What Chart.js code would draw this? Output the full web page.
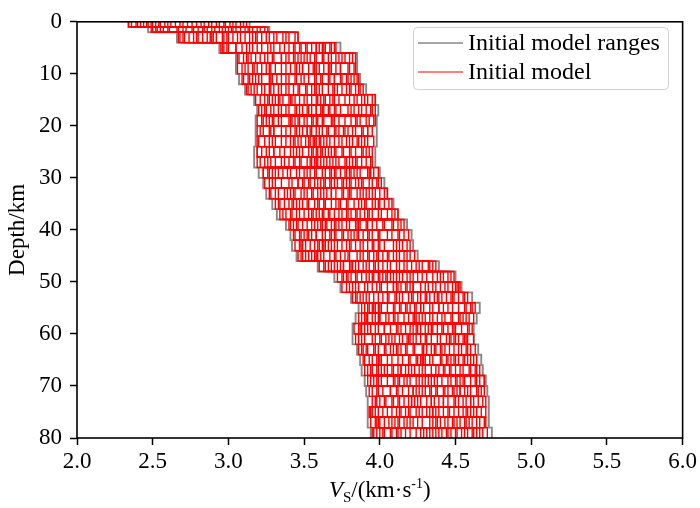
<!DOCTYPE html>
<html><head><meta charset="utf-8">
<script src="https://cdn.jsdelivr.net/npm/chart.js@4.4.1/dist/chart.umd.min.js"></script>
<style>html,body{margin:0;padding:0;background:#fff;}canvas{display:block;}</style>
</head><body>
<canvas id="c" width="700" height="508"></canvas>
<script>
// Layer boundaries (km)
const layerTop    = [0,1,2,4,6,8,10,12,14,16,18,20,22,24,26,28,30,32,34,36,38,40,42,44,46,48,50,52,54,56,58,60,62,64,66,68,70,72,74,76,78];
const layerBottom = [1,2,4,6,8,10,12,14,16,18,20,22,24,26,28,30,32,34,36,38,40,42,44,46,48,50,52,54,56,58,60,62,64,66,68,70,72,74,76,78,80];
// Initial model ranges (km/s)
const rangeMin = [2.34,2.47,2.66,2.94,3.05,3.05,3.07,3.11,3.17,3.19,3.18,3.18,3.18,3.17,3.17,3.20,3.23,3.25,3.29,3.32,3.38,3.41,3.42,3.45,3.59,3.70,3.74,3.81,3.86,3.84,3.82,3.82,3.85,3.87,3.88,3.90,3.91,3.92,3.92,3.92,3.94];
const rangeMax = [3.14,3.27,3.46,3.74,3.85,3.85,3.87,3.91,3.97,3.99,3.98,3.98,3.98,3.97,3.97,4.00,4.03,4.05,4.09,4.12,4.18,4.21,4.22,4.25,4.39,4.50,4.54,4.61,4.66,4.64,4.62,4.62,4.65,4.67,4.68,4.70,4.71,4.72,4.72,4.72,4.74];
// Initial models (km/s per layer)
const m1  = [2.46,3.02,2.97,3.64,3.13,3.49,3.70,3.38,3.67,3.38,3.93,3.54,3.20,3.75,3.58,3.87,3.46,4.05,3.43,3.81,3.71,4.13,3.48,4.06,3.97,3.95,4.51,3.91,4.39,4.30,4.11,4.50,3.89,4.44,4.23,4.69,4.07,4.34,4.57,4.13,4.45];
const m2  = [2.97,2.61,3.32,3.05,3.71,3.22,3.14,3.80,3.29,3.86,3.41,3.77,3.63,3.30,3.91,3.36,3.88,3.52,3.97,3.60,4.02,3.55,3.89,3.58,4.21,4.38,3.86,4.27,3.99,4.57,3.94,4.18,4.52,4.01,4.60,4.28,4.49,4.03,4.26,4.61,4.07];
const m3  = [2.58,3.19,2.74,3.48,3.57,3.79,3.45,3.17,3.92,3.53,3.25,3.88,3.44,3.66,3.24,3.71,3.61,3.33,3.74,4.05,3.46,3.83,4.15,3.79,3.68,4.11,4.27,4.52,3.92,4.06,4.48,3.90,4.23,4.62,3.95,4.10,4.64,4.19,3.99,4.40,4.68];
const m4  = [3.08,2.84,3.11,2.99,3.29,3.60,3.83,3.55,3.21,3.70,3.59,3.23,3.85,3.49,3.78,3.27,3.98,3.68,3.37,3.93,4.14,3.47,3.66,4.20,3.81,3.76,4.45,4.06,4.61,4.19,3.86,4.57,4.09,4.29,4.47,3.96,4.33,4.68,4.11,3.97,4.29];
const m5  = [2.40,2.53,2.92,3.67,3.10,3.11,3.58,3.69,3.44,3.24,3.81,3.62,3.29,3.19,3.63,3.94,3.29,3.91,3.60,3.38,3.87,4.19,3.75,3.51,4.33,4.02,3.78,4.39,4.18,3.88,4.35,4.10,4.60,3.93,4.14,4.55,3.95,4.50,4.42,4.08,3.98];
const m6  = [2.73,3.24,3.40,3.22,3.82,3.35,3.22,3.86,3.77,3.45,3.50,3.95,3.70,3.88,3.40,3.52,3.72,4.00,3.52,3.70,3.57,3.99,4.03,3.92,3.64,4.45,4.09,3.85,4.48,4.35,4.12,4.40,3.88,4.52,4.30,4.63,4.15,3.95,4.67,4.25,4.56];
const m7  = [2.89,2.70,2.68,3.58,3.44,3.71,3.10,3.24,3.61,3.97,3.19,3.49,3.57,3.95,3.52,3.41,3.50,3.44,3.83,4.10,3.65,3.62,3.44,4.11,3.91,4.28,4.52,3.96,4.09,4.62,4.27,3.84,4.37,4.15,3.90,4.41,4.56,4.27,3.94,4.51,4.39];
const m8  = [2.50,2.98,3.22,2.96,3.62,3.06,3.70,3.13,3.18,3.62,3.68,3.30,3.96,3.22,3.85,3.80,3.35,3.59,4.06,3.45,3.95,3.89,3.57,3.98,4.07,3.88,4.18,4.58,3.88,4.24,4.58,4.27,4.11,4.40,4.66,4.01,4.22,4.60,4.49,3.94,4.62];
const m9  = [3.12,2.49,2.86,3.34,3.18,3.53,3.32,3.46,3.85,3.28,3.96,3.70,3.35,3.58,3.19,3.62,4.01,3.76,3.47,3.85,3.41,4.05,3.96,3.67,4.26,3.72,3.98,4.15,4.57,3.95,4.03,4.62,4.29,3.90,4.21,4.47,4.02,4.39,4.60,4.18,3.96];
const m10 = [2.65,2.91,3.03,3.71,3.52,3.84,3.50,3.62,3.52,3.79,3.33,3.19,3.78,3.41,3.69,3.99,3.81,3.28,3.68,3.53,3.80,3.71,4.20,3.46,3.74,4.22,4.37,3.82,4.29,4.48,4.20,3.97,4.46,4.58,4.03,4.20,4.69,4.08,4.35,4.70,4.20];
const m11 = [2.36,3.08,2.79,3.12,3.07,3.41,3.61,3.33,3.36,3.20,3.62,3.82,3.51,3.80,3.31,3.23,3.67,3.85,3.31,3.99,3.52,3.44,3.81,4.23,3.60,3.99,4.50,4.44,3.97,4.12,3.83,4.34,4.58,4.24,4.55,3.92,4.42,4.55,4.05,4.33,4.50];
const m12 = [2.92,2.76,3.44,3.43,3.35,3.16,3.79,3.89,3.69,3.58,3.87,3.58,3.24,3.53,3.95,3.74,3.42,3.65,3.90,3.62,4.09,3.76,3.51,3.85,4.13,4.35,3.92,4.33,4.42,3.86,4.41,4.06,3.97,4.35,4.39,4.60,3.98,4.13,4.52,4.59,4.11];
const m13 = [2.79,3.14,2.96,3.62,3.77,3.67,3.27,3.19,3.26,3.91,3.46,3.66,3.88,3.27,3.47,3.85,3.57,3.95,3.59,3.41,3.73,4.12,3.47,3.61,3.96,4.18,4.05,4.48,4.13,4.41,4.14,4.47,3.92,4.08,4.59,4.34,4.58,3.98,4.19,4.45,4.35];
const m14 = [2.44,2.57,3.27,3.30,3.24,3.28,3.86,3.72,3.47,3.35,3.27,3.45,3.67,3.89,3.73,3.33,3.93,3.39,4.00,3.78,3.43,3.58,4.09,4.02,3.86,3.84,4.32,3.89,4.52,4.00,4.54,4.22,4.17,4.64,3.99,4.13,4.28,4.65,4.31,4.03,4.58];
const m15 = [3.01,2.66,3.08,3.16,3.66,3.49,3.40,3.51,3.95,3.66,3.73,3.27,3.43,3.62,3.26,3.57,3.24,3.71,3.79,3.90,3.98,3.50,3.72,3.55,4.35,4.05,3.80,4.21,3.93,4.53,3.99,4.52,4.34,4.47,4.12,4.66,4.11,4.45,3.97,4.66,4.02];
const m16 = [2.54,3.03,3.36,2.97,3.15,3.80,3.18,3.81,3.73,3.47,3.55,3.92,3.19,3.71,3.59,3.47,3.84,3.55,3.42,4.08,3.85,3.95,3.62,3.74,3.70,4.47,4.14,4.10,4.35,4.28,3.90,4.30,4.49,3.98,4.46,4.05,4.38,4.23,4.64,4.12,4.47];
const m17 = [2.84,2.50,2.71,3.52,3.84,3.25,3.67,3.40,3.31,3.83,3.40,3.52,3.92,3.45,3.88,3.68,3.49,4.03,3.64,3.34,4.16,3.67,3.99,3.49,4.02,3.93,4.40,4.55,4.05,4.16,4.30,3.88,4.40,4.20,4.26,4.51,4.65,4.34,4.14,4.28,4.71];
const m18 = [2.62,2.80,3.18,3.68,3.48,3.63,3.53,3.12,3.59,3.40,3.91,3.38,3.60,3.34,3.44,3.92,3.76,3.48,3.95,3.67,3.62,4.16,3.87,4.16,3.63,4.31,4.22,3.99,4.63,4.09,4.49,4.15,3.86,4.55,3.94,4.38,4.07,4.70,4.39,4.56,4.14];
const m19 = [2.98,3.21,2.89,3.40,3.58,3.09,3.74,3.58,3.40,3.74,3.22,3.76,3.48,3.93,3.67,3.29,3.63,3.81,3.86,3.50,3.49,3.85,4.13,3.71,4.28,4.07,3.75,4.30,4.20,4.59,4.07,4.55,4.22,3.95,4.34,4.24,4.51,4.00,4.55,4.22,4.31];
const m20 = [2.47,2.94,3.00,3.26,3.40,3.74,3.44,3.75,3.88,3.52,3.63,3.21,3.73,3.59,3.35,3.77,3.95,3.63,3.71,3.95,4.03,3.53,3.54,3.89,4.18,3.81,4.48,4.13,4.00,4.33,4.61,4.01,4.54,4.12,4.05,4.56,4.19,4.60,4.08,4.37,4.66];
const m21 = [2.87,2.60,3.25,3.05,3.30,3.44,3.13,3.27,3.64,3.88,3.77,3.60,3.31,3.76,3.80,3.45,3.31,3.89,3.53,3.79,3.91,3.48,3.70,4.05,3.84,4.15,3.84,4.47,3.90,4.43,3.97,4.38,4.03,4.50,4.50,3.99,4.45,4.16,4.28,4.64,4.03];
const m22 = [2.70,3.11,2.83,3.55,3.75,3.56,3.81,3.43,3.24,3.33,3.47,3.84,3.82,3.47,3.54,3.58,3.70,3.31,3.78,3.58,3.75,4.00,3.92,3.59,4.11,4.42,4.12,4.05,4.45,3.92,4.38,4.24,4.63,4.30,4.17,4.45,4.30,4.42,4.62,3.99,4.24];
const m23 = [3.05,2.86,3.38,3.19,3.21,3.19,3.57,3.66,3.80,3.63,3.35,3.44,3.58,3.84,3.28,3.83,3.54,3.75,3.63,3.87,3.59,3.79,3.60,3.96,3.76,3.85,4.30,4.38,4.27,3.99,4.45,4.13,4.07,4.41,4.63,4.16,4.60,4.31,4.20,4.48,4.54];
const m24 = [2.55,3.00,2.77,3.47,3.68,3.31,3.35,3.52,3.58,3.22,3.58,3.65,3.65,3.25,3.61,3.70,3.86,3.43,3.88,3.73,3.68,3.64,3.78,3.80,3.99,4.13,4.00,4.19,4.10,4.22,4.24,4.44,4.14,4.25,4.09,4.30,4.37,4.49,4.33,4.16,4.41];
const m25 = [2.39,2.72,3.14,3.58,3.54,3.13,3.29,3.84,3.34,3.94,3.70,3.35,3.46,3.55,3.82,3.64,3.27,3.97,3.45,3.36,3.78,3.92,3.63,4.13,3.89,3.75,4.22,4.36,4.24,3.91,4.17,4.58,3.96,4.19,4.43,3.94,4.53,4.12,4.45,4.00,4.27];
const m26 = [2.68,3.16,2.70,3.09,3.43,3.66,3.78,3.30,3.83,3.30,3.52,3.89,3.80,3.37,3.21,3.93,3.68,3.61,4.03,3.92,3.55,3.52,4.00,3.77,4.32,4.25,4.43,3.93,4.56,4.38,3.88,4.08,4.36,4.60,3.92,4.36,4.12,4.52,4.02,4.57,4.17];
const m27 = [2.94,2.55,2.99,3.37,3.80,3.45,3.20,3.60,3.55,3.67,3.85,3.47,3.54,3.70,3.43,3.31,3.78,3.50,3.34,3.56,4.12,3.81,3.49,3.63,3.76,4.40,3.95,4.25,4.01,4.47,4.59,3.95,4.31,3.99,4.37,4.18,3.99,4.36,4.58,4.06,4.61];
const m28 = [2.52,2.89,3.30,3.63,3.26,3.58,3.09,3.70,3.42,3.58,3.29,3.73,3.27,3.91,3.65,3.81,3.40,3.79,3.57,4.01,3.70,4.08,3.59,3.53,4.05,3.96,4.17,4.41,4.33,4.04,4.32,4.20,3.91,4.45,4.28,4.53,4.48,3.97,4.24,4.38,4.12];
const m29 = [3.10,3.05,2.80,3.28,3.12,3.27,3.48,3.22,3.70,3.44,3.44,3.28,3.61,3.64,3.55,3.39,3.89,3.37,3.99,3.47,3.86,3.68,3.84,4.18,3.66,4.09,3.90,4.02,4.27,4.23,3.92,4.49,4.12,4.27,4.14,4.64,4.26,4.21,4.46,4.43,4.08];
const m30 = [2.42,3.26,3.06,3.51,3.63,3.74,3.62,3.28,3.90,3.95,3.56,3.55,3.38,3.19,3.84,3.50,3.99,3.68,3.40,3.75,3.45,3.58,3.68,3.87,4.24,3.79,4.35,4.11,3.95,4.52,4.22,3.86,4.57,4.33,4.01,4.09,4.43,4.09,4.70,4.20,4.44];
const m31 = [2.76,2.67,2.90,3.00,3.38,3.17,3.85,3.78,3.63,3.25,3.84,3.41,3.90,3.56,3.48,3.23,3.59,3.87,3.73,3.55,3.64,3.99,4.11,3.48,3.80,4.00,4.09,3.84,4.14,4.00,4.42,4.19,4.28,3.89,4.53,3.98,4.24,4.57,4.17,4.35,4.00];
const m32 = [2.34,2.77,3.19,3.44,3.06,3.47,3.38,3.57,3.33,3.81,3.23,3.71,3.53,3.81,3.71,3.67,3.46,3.56,3.64,3.84,4.08,3.75,3.80,3.99,4.16,4.04,3.82,4.56,4.39,4.10,3.87,4.56,4.43,4.05,4.19,4.32,3.93,4.25,4.37,4.53,3.95];
const m33 = [2.82,2.96,3.46,3.14,3.46,3.83,3.16,3.47,3.97,3.49,3.69,3.30,3.41,3.43,3.94,3.96,3.75,3.27,3.91,3.63,3.40,3.93,3.64,3.70,3.93,4.49,4.20,3.87,4.23,4.55,4.03,4.04,4.18,4.49,3.98,4.69,4.53,4.04,4.13,4.69,4.37];
const m34 = [2.60,2.52,2.67,3.60,3.73,3.38,3.66,3.15,3.50,3.71,3.97,3.92,3.75,3.30,3.37,3.54,3.53,3.93,3.33,4.12,3.84,3.43,3.95,4.09,3.72,3.91,4.53,4.22,4.60,3.90,4.34,4.00,4.41,4.00,4.64,4.26,4.22,4.42,3.95,4.10,4.64];
const m35 = [3.03,2.83,3.16,2.95,3.50,3.68,3.75,3.35,3.27,3.55,3.42,3.79,3.86,3.68,3.57,3.78,3.64,3.80,4.08,3.42,3.92,3.86,4.18,3.57,4.37,3.78,4.11,4.49,3.96,4.26,4.50,4.31,3.99,4.56,4.08,4.12,4.34,4.62,4.35,3.98,4.33];
const m36 = [2.49,3.13,2.88,3.70,3.35,3.57,3.28,3.87,3.41,3.61,3.30,3.52,3.56,3.61,3.77,3.26,3.80,3.41,3.49,3.66,3.61,3.70,3.47,3.93,3.82,4.20,4.01,4.31,4.17,3.97,4.25,4.46,4.04,4.28,4.42,4.50,4.67,4.21,3.93,4.49,4.51];
const models = [m1,m2,m3,m4,m5,m6,m7,m8,m9,m10,m11,m12,m13,m14,m15,m16,m17,m18,m19,m20,m21,m22,m23,m24,m25,m26,m27,m28,m29,m30,m31,m32,m33,m34,m35,m36];
// Tick values
const xTicks = [2.0,2.5,3.0,3.5,4.0,4.5,5.0,5.5,6.0];
const yTicks = [0,10,20,30,40,50,60,70,80];

const SERIF = '"Liberation Serif","Times New Roman",serif';
const RED = '#ff0000', GRAY = '#888888';

function stepPoints(vals){
  const pts = [];
  for (let i = 0; i < vals.length; i++){
    pts.push({x: vals[i], y: layerTop[i]});
    pts.push({x: vals[i], y: layerBottom[i]});
  }
  return pts;
}

const datasets = models.map((m) => ({
  label: 'Initial model', data: stepPoints(m), showLine: true,
  borderColor: RED, borderWidth: 1.4, pointRadius: 0, fill: false, order: 1
}));
datasets.push({label:'Initial model ranges', data: stepPoints(rangeMin), showLine:true, borderColor: GRAY, borderWidth: 1.9, pointRadius:0, fill:false, order:2});
datasets.push({label:'Initial model ranges', data: stepPoints(rangeMax), showLine:true, borderColor: GRAY, borderWidth: 1.9, pointRadius:0, fill:false, order:2});

const deco = {
  id: 'deco',
  afterDraw(chart){
    const ctx = chart.ctx, a = chart.chartArea;
    ctx.save();
    // frame
    ctx.strokeStyle = '#000'; ctx.lineWidth = 1.6;
    ctx.strokeRect(a.left, a.top, a.right - a.left, a.bottom - a.top);
    // legend
    const lx = 413.5, ly = 27.5, lw = 255, lh = 62, r = 4;
    ctx.beginPath();
    ctx.moveTo(lx + r, ly); ctx.lineTo(lx + lw - r, ly); ctx.arcTo(lx + lw, ly, lx + lw, ly + r, r);
    ctx.lineTo(lx + lw, ly + lh - r); ctx.arcTo(lx + lw, ly + lh, lx + lw - r, ly + lh, r);
    ctx.lineTo(lx + r, ly + lh); ctx.arcTo(lx, ly + lh, lx, ly + lh - r, r);
    ctx.lineTo(lx, ly + r); ctx.arcTo(lx, ly, lx + r, ly, r); ctx.closePath();
    ctx.fillStyle = 'rgba(255,255,255,0.8)'; ctx.fill();
    ctx.strokeStyle = '#d0d0d0'; ctx.lineWidth = 1; ctx.stroke();
    const items = [[chart.data.datasets[models.length].label, GRAY, 1.5, 43], [chart.data.datasets[0].label, RED, 1.2, 72]];
    ctx.font = '24px ' + SERIF; ctx.textAlign = 'left'; ctx.textBaseline = 'middle'; ctx.fillStyle = '#000';
    items.forEach(([t, c, w, y]) => {
      ctx.strokeStyle = c; ctx.lineWidth = w;
      ctx.beginPath(); ctx.moveTo(418, y); ctx.lineTo(463, y); ctx.stroke();
      ctx.fillText(t, 468, y + 1);
    });
    // y title
    ctx.save();
    ctx.translate(18, (a.top + a.bottom) / 2);
    ctx.rotate(-Math.PI / 2);
    ctx.textAlign = 'center'; ctx.textBaseline = 'middle';
    ctx.font = '23px ' + SERIF;
    ctx.fillText('Depth/km', 0, 0);
    ctx.restore();
    // x title: V_S/(km·s^-1)
    const parts = [
      {t:'V', f:'italic 23px ' + SERIF, dy:0},
      {t:'S', f:'15px ' + SERIF, dy:5},
      {t:'/(km·s', f:'23px ' + SERIF, dy:0},
      {t:'-1', f:'14px ' + SERIF, dy:-9},
      {t:')', f:'23px ' + SERIF, dy:0}
    ];
    let total = 0;
    parts.forEach(p => { ctx.font = p.f; p.w = ctx.measureText(p.t).width; total += p.w; });
    let x = (a.left + a.right) / 2 - total / 2;
    const base = 497;
    ctx.textAlign = 'left'; ctx.textBaseline = 'alphabetic';
    parts.forEach(p => { ctx.font = p.f; ctx.fillText(p.t, x, base + p.dy); x += p.w; });
    ctx.restore();
  }
};

new Chart(document.getElementById('c'), {
  type: 'scatter',
  data: { datasets },
  options: {
    responsive: false, animation: false,
    layout: { padding: { top: 13, right: 15, left: 0, bottom: 0 } },
    plugins: { legend: { display: false }, tooltip: { enabled: false } },
    scales: {
      x: {
        type: 'linear', min: 2, max: 6,
        afterBuildTicks: s => { s.ticks = xTicks.map(v => ({value: v})); },
        afterFit: s => { s.height = 70; },
        ticks: { callback: v => Number(v).toFixed(1), font: { family: SERIF, size: 23 }, color: '#000', padding: 3, maxRotation: 0, autoSkip: false },
        grid: { drawOnChartArea: false, drawTicks: true, tickLength: 7, tickWidth: 1.5, tickColor: '#000', color: '#000' },
        border: { display: false }
      },
      y: {
        type: 'linear', min: 0, max: 80, reverse: true,
        afterBuildTicks: s => { s.ticks = yTicks.map(v => ({value: v})); },
        afterFit: s => { s.width = 77; },
        ticks: { callback: v => String(v), font: { family: SERIF, size: 23 }, color: '#000', padding: 8, autoSkip: false },
        grid: { drawOnChartArea: false, drawTicks: true, tickLength: 7, tickWidth: 1.5, tickColor: '#000', color: '#000' },
        border: { display: false }
      }
    }
  },
  plugins: [deco]
});
</script>
</body></html>
